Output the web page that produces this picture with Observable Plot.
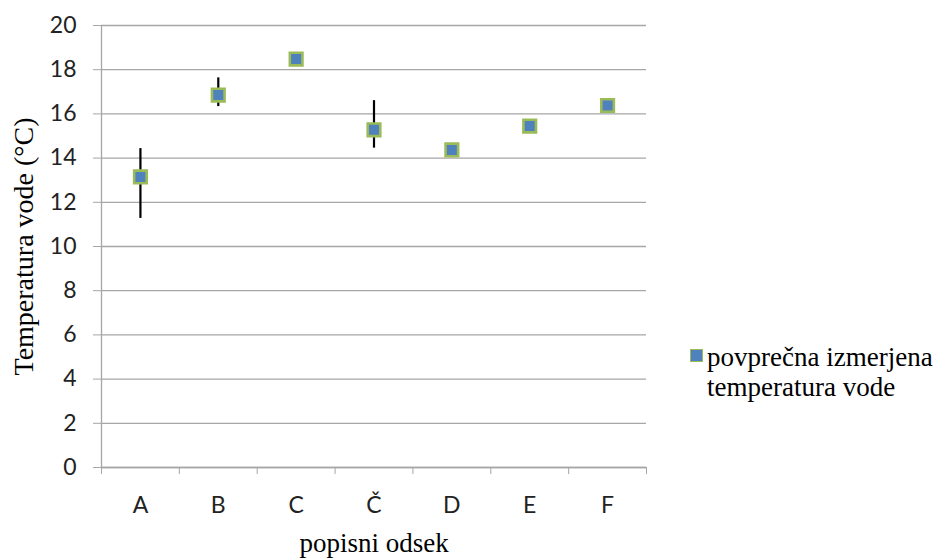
<!DOCTYPE html>
<html>
<head>
<meta charset="utf-8">
<script src="https://cdn.jsdelivr.net/npm/d3@7"></script>
<script src="https://cdn.jsdelivr.net/npm/@observablehq/plot@0.6"></script>
<style>
  html, body { margin: 0; padding: 0; background: #fff; }
  #wrap { position: relative; width: 943px; height: 558px; }
  #wrap svg g[aria-label="y-axis tick label"], #wrap svg g[aria-label="x-axis tick label"] { font-size: 23px !important; font-family: Lato, sans-serif !important; }
  #legend { position: absolute; left: 690px; top: 342px; font-family: "Liberation Serif", serif; font-size: 27px; color: #000; line-height: 30px; white-space: nowrap; }
  #legend .sw { position: absolute; left: 0; top: 7px; width: 11px; height: 11px; background: #4F81BD; border: 1.5px solid #9BBB59; }
  #legend .tx { margin-left: 17px; }
</style>
</head>
<body>
<div id="wrap"><div id="legend"><div class="sw"></div><div class="tx">povprečna izmerjena<br>temperatura vode</div></div></div>
<script>
const categories = ["A", "B", "C", "Č", "D", "E", "F"];
const meanTemp = [13.15, 16.85, 18.48, 15.28, 14.37, 15.45, 16.38];
const errLow = [11.27, 16.33, null, 14.45, null, null, null];
const errHigh = [14.43, 17.63, null, 16.6, null, null, null];
const yTicks = [0, 2, 4, 6, 8, 10, 12, 14, 16, 18, 20];

const data = categories.map((c, i) => ({cat: c, idx: i + 0.5, v: meanTemp[i], lo: errLow[i], hi: errHigh[i]}));
const errs = data.filter(d => d.lo != null);
const bounds = d3.range(categories.length + 1);

const grid = "#A6A6A6";
const chart = Plot.plot({
  width: 943,
  height: 558,
  marginLeft: 101,
  marginRight: 297,
  marginTop: 25,
  marginBottom: 91,
  style: {background: "transparent"},
  x: {type: "linear", domain: [0, categories.length]},
  y: {domain: [0, 20]},
  marks: [
    Plot.gridY(yTicks, {stroke: grid, strokeOpacity: 1, strokeWidth: 1.3}),
    Plot.ruleX([0], {stroke: grid, strokeWidth: 1.3}),
    Plot.axisY({ticks: yTicks, tickSize: 8, tickPadding: 17, stroke: grid, fontSize: 23, fill: "#222", label: null}),
    Plot.axisX({ticks: bounds, tickSize: 7, tickFormat: () => "", stroke: grid, label: null}),
    Plot.axisX({ticks: data.map(d => d.idx), tickSize: 0, tickPadding: 29, tickFormat: v => categories[Math.round(v - 0.5)], fontSize: 23, fill: "#222", label: null}),
    Plot.ruleY([0], {stroke: grid, strokeWidth: 1.3}),
    Plot.ruleX(errs, {x: "idx", y1: "lo", y2: "hi", stroke: "#000", strokeWidth: 2.2}),
    Plot.dot(data, {x: "idx", y: "v", symbol: "square", r: 7.1, fill: "#4F81BD", stroke: "#9BBB59", strokeWidth: 2.6}),
    Plot.text(["Temperatura vode (°C)"], {frameAnchor: "left", textAnchor: "middle", dx: -77, rotate: -90, fontSize: 28, fontFamily: "Liberation Serif, serif", fill: "#000"}),
    Plot.text(["popisni odsek"], {frameAnchor: "bottom", dy: 84, fontSize: 27, fontFamily: "Liberation Serif, serif", fill: "#000"})
  ]
});
document.getElementById("wrap").prepend(chart);
chart.style.position = "absolute";
chart.style.left = "0";
chart.style.top = "0";
</script>
</body>
</html>
